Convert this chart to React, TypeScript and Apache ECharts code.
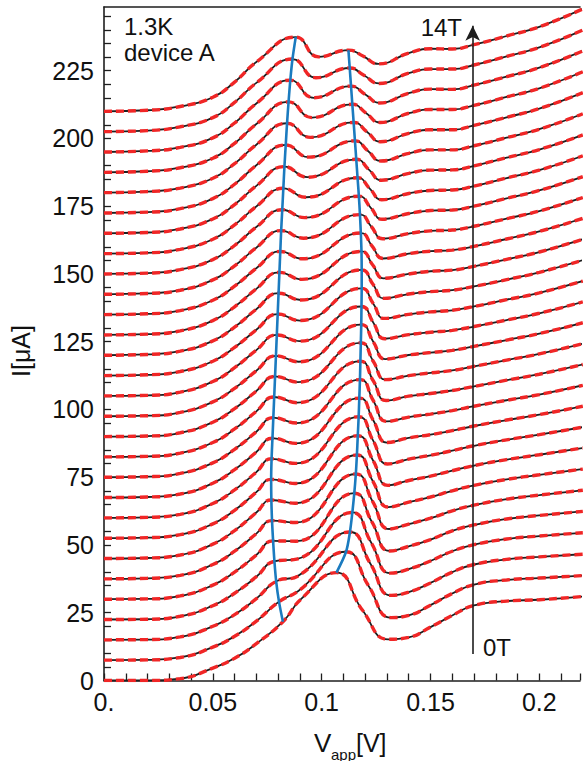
import React, { useEffect, useRef } from 'react';
import * as echarts from 'echarts';

// Magnetic field of each trace (T), 0T at bottom, 14T at top
const fieldsT = [0, 0.5, 1, 1.5, 2, 2.5, 3, 3.5, 4, 4.5, 5, 5.5, 6, 6.5, 7, 7.5, 8, 8.5, 9, 9.5, 10, 10.5, 11, 11.5, 12, 12.5, 13, 13.5, 14];
// vertical waterfall offset (μA per tesla)
const OFFSET_PER_T = 15;

// rising part, common V grid
const riseV = [0, 0.02, 0.035, 0.05, 0.06, 0.07];
const riseRel = [
  [0, 0.0, 0.7, 4.6, 8.2, 13.6],
  [0, 0.1, 1.0, 4.8, 8.8, 14.4],
  [0, 0.1, 1.1, 5.0, 9.3, 15.2],
  [0, 0.1, 1.2, 5.1, 9.7, 15.8],
  [0, 0.1, 1.2, 5.2, 10.0, 16.3],
  [0, 0.2, 1.3, 5.3, 10.2, 16.7],
  [0, 0.2, 1.3, 5.3, 10.3, 17.0],
  [0, 0.2, 1.3, 5.3, 10.3, 17.0],
  [0, 0.2, 1.3, 5.3, 10.3, 16.9],
  [0, 0.2, 1.3, 5.3, 10.3, 16.8],
  [0, 0.2, 1.4, 5.3, 10.3, 16.8],
  [0, 0.2, 1.4, 5.3, 10.3, 16.8],
  [0, 0.2, 1.4, 5.3, 10.3, 16.8],
  [0, 0.2, 1.4, 5.3, 10.3, 16.8],
  [0, 0.2, 1.4, 5.3, 10.4, 16.9],
  [0, 0.3, 1.5, 5.3, 10.4, 16.9],
  [0, 0.3, 1.5, 5.3, 10.4, 17.0],
  [0, 0.3, 1.5, 5.3, 10.4, 17.0],
  [0, 0.3, 1.5, 5.3, 10.5, 17.1],
  [0, 0.3, 1.5, 5.3, 10.5, 17.2],
  [0, 0.3, 1.6, 5.3, 10.5, 17.3],
  [0, 0.3, 1.6, 5.3, 10.6, 17.4],
  [0, 0.3, 1.6, 5.3, 10.6, 17.5],
  [0, 0.3, 1.6, 5.3, 10.6, 17.6],
  [0, 0.4, 1.7, 5.3, 10.7, 17.7],
  [0, 0.4, 1.7, 5.2, 10.7, 17.8],
  [0, 0.4, 1.7, 5.2, 10.7, 17.9],
  [0, 0.4, 1.8, 5.2, 10.8, 18.0],
  [0, 0.4, 1.8, 5.2, 10.8, 18.2],
];

// first peak (left blue line)
const peak1V = [0.0822, 0.0804, 0.0791, 0.0783, 0.0777, 0.0772, 0.0769, 0.0768, 0.0770, 0.0774, 0.0778, 0.0782, 0.0786, 0.0790, 0.0794, 0.0798, 0.0802, 0.0806, 0.0810, 0.0814, 0.0819, 0.0824, 0.0829, 0.0835, 0.0841, 0.0848, 0.0856, 0.0866, 0.0881];
const peak1Rel = [21.7, 21.6, 21.6, 21.5, 21.5, 21.5, 21.6, 21.7, 21.8, 21.9, 22.0, 22.1, 22.2, 22.3, 22.5, 22.7, 22.9, 23.1, 23.3, 23.5, 23.7, 24.1, 24.6, 25.1, 25.6, 26.0, 26.5, 26.8, 27.4];

// valley between the peaks
const dip1V = [0.0905, 0.0893, 0.089, 0.0885, 0.0882, 0.088, 0.0879, 0.0879, 0.088, 0.0882, 0.0885, 0.0888, 0.0891, 0.0894, 0.0897, 0.09, 0.0904, 0.0908, 0.0912, 0.0917, 0.0922, 0.0928, 0.0934, 0.0941, 0.0948, 0.0956, 0.0964, 0.0974, 0.0986];
const dip1Rel = [30.0, 25.5, 23.5, 22.3, 21.4, 20.8, 20.4, 20.2, 20.1, 20.0, 20.0, 20.0, 20.1, 20.1, 20.2, 20.3, 20.4, 20.5, 20.6, 20.7, 20.8, 20.8, 20.7, 20.6, 20.4, 20.2, 20.0, 19.9, 20.1];

// second peak (right blue line)
const peak2V = [0.1068, 0.1112, 0.1130, 0.1141, 0.1150, 0.1157, 0.1162, 0.1166, 0.1170, 0.1173, 0.1176, 0.1178, 0.1180, 0.1182, 0.1183, 0.1184, 0.1184, 0.1183, 0.1180, 0.1176, 0.1171, 0.1165, 0.1159, 0.1153, 0.1147, 0.1141, 0.1135, 0.1129, 0.1123];
const peak2Rel = [39.8, 40.0, 39.8, 39.5, 39.1, 38.7, 38.2, 37.8, 37.3, 36.7, 36.0, 35.3, 34.6, 33.8, 33.0, 32.2, 31.5, 30.8, 30.1, 29.4, 28.7, 28.0, 27.3, 26.6, 25.9, 25.1, 24.3, 23.5, 22.6];

// steep fall after the second peak
const fallV = [0.1187, 0.1215, 0.1224, 0.1228, 0.1231, 0.1234, 0.1235, 0.1236, 0.1236, 0.1237, 0.1237, 0.1237, 0.1237, 0.1237, 0.1237, 0.1236, 0.1235, 0.1234, 0.1231, 0.1228, 0.1225, 0.1221, 0.1217, 0.1213, 0.1209, 0.1205, 0.1201, 0.1196, 0.1192];
const fallRel = [26.0, 27.5, 28.1, 28.3, 28.5, 28.6, 28.6, 28.7, 28.6, 28.5, 28.3, 28.1, 27.8, 27.5, 27.1, 26.7, 26.3, 25.9, 25.4, 25.0, 24.5, 24.0, 23.5, 22.9, 22.4, 21.8, 21.2, 20.7, 20.3];

// valley after the fall
const dip2V = [0.1306, 0.1318, 0.1318, 0.1315, 0.1312, 0.131, 0.1307, 0.1305, 0.1302, 0.13, 0.1298, 0.1296, 0.1294, 0.1292, 0.129, 0.1288, 0.1286, 0.1284, 0.1282, 0.128, 0.1278, 0.1276, 0.1274, 0.1272, 0.127, 0.1268, 0.1266, 0.1263, 0.126];
const dip2Rel = [15.2, 15.7, 16.4, 17.1, 17.8, 18.4, 19.0, 19.5, 19.9, 20.3, 20.6, 20.8, 21.0, 21.1, 21.1, 21.1, 21.0, 20.9, 20.7, 20.5, 20.2, 19.9, 19.6, 19.2, 18.8, 18.4, 18.1, 17.8, 17.5];

// high-bias tail, common V grid
const tailV = [0.14, 0.15, 0.16, 0.17, 0.185, 0.2, 0.22];
const tailRel = [
  [15.9, 19.7, 24.0, 27.7, 29.3, 29.8, 31.0],
  [16.5, 20.3, 24.6, 27.9, 29.6, 30.3, 31.2],
  [17.6, 21.0, 25.0, 27.8, 29.7, 30.6, 31.6],
  [18.6, 21.6, 25.2, 27.6, 29.7, 30.8, 32.0],
  [19.5, 22.0, 25.2, 27.4, 29.6, 30.9, 32.4],
  [20.2, 22.4, 25.1, 27.2, 29.4, 30.9, 32.7],
  [20.8, 22.7, 25.0, 27.0, 29.2, 30.9, 33.0],
  [21.3, 22.9, 24.9, 26.8, 29.0, 30.8, 33.3],
  [21.7, 23.1, 24.8, 26.6, 28.8, 30.7, 33.5],
  [22.0, 23.2, 24.7, 26.4, 28.6, 30.6, 33.7],
  [22.2, 23.3, 24.6, 26.2, 28.4, 30.5, 33.9],
  [22.4, 23.4, 24.5, 26.0, 28.3, 30.5, 34.1],
  [22.5, 23.5, 24.4, 25.9, 28.2, 30.5, 34.3],
  [22.6, 23.5, 24.3, 25.8, 28.1, 30.5, 34.5],
  [22.6, 23.5, 24.2, 25.6, 28.0, 30.5, 34.7],
  [22.6, 23.5, 24.1, 25.5, 28.0, 30.5, 34.9],
  [22.6, 23.5, 24.0, 25.4, 27.9, 30.6, 35.1],
  [22.5, 23.5, 23.9, 25.3, 27.9, 30.6, 35.3],
  [22.5, 23.4, 23.8, 25.2, 27.9, 30.7, 35.5],
  [22.4, 23.4, 23.7, 25.1, 27.9, 30.7, 35.7],
  [22.3, 23.4, 23.6, 25.0, 27.9, 30.8, 35.9],
  [22.2, 23.3, 23.5, 24.9, 27.9, 30.8, 36.1],
  [22.1, 23.3, 23.4, 24.9, 27.9, 30.9, 36.3],
  [22.0, 23.3, 23.3, 24.8, 27.8, 30.9, 36.6],
  [21.9, 23.2, 23.2, 24.8, 27.8, 31.0, 36.9],
  [21.8, 23.2, 23.2, 24.7, 27.8, 31.0, 37.1],
  [21.7, 23.2, 23.1, 24.7, 27.8, 31.1, 37.3],
  [21.6, 23.1, 23.1, 24.6, 27.8, 31.1, 37.5],
  [21.5, 23.1, 23.0, 24.6, 27.8, 31.2, 37.8],
];

// field arrow (V position and its I extent)
const arrowV = 0.1694;
const arrowFromI = 9.8;
const arrowToI = 241.6;

const FONT = "'Liberation Sans', Arial, Helvetica, sans-serif";
const BLACK = '#1e1e1e';
const RED = '#f02626';
const BLUE = '#1b7bbf';

function curvePoints(k: number): number[][] {
  const off = fieldsT[k] * OFFSET_PER_T;
  const pts: number[][] = [];
  riseV.forEach((v, i) => pts.push([v, riseRel[k][i] + off]));
  pts.push([peak1V[k], peak1Rel[k] + off]);
  pts.push([dip1V[k], dip1Rel[k] + off]);
  pts.push([peak2V[k], peak2Rel[k] + off]);
  pts.push([fallV[k], fallRel[k] + off]);
  pts.push([dip2V[k], dip2Rel[k] + off]);
  tailV.forEach((v, i) => pts.push([v, tailRel[k][i] + off]));
  return pts;
}

export default function App() {
  const ref = useRef<HTMLDivElement>(null);
  useEffect(() => {
    if (!ref.current) return;
    const chart = echarts.init(ref.current, undefined, { renderer: 'svg' });
    const series: any[] = [];
    fieldsT.forEach((_, k) => {
      const data = curvePoints(k);
      series.push({
        type: 'line', data, smooth: 0.5, showSymbol: false, symbol: 'none', z: 2, silent: true,
        lineStyle: { color: BLACK, width: 1.8 },
      });
      series.push({
        type: 'line', data, smooth: 0.5, showSymbol: false, symbol: 'none', z: 3, silent: true,
        lineStyle: { color: RED, width: 3.4, type: [8, 4] },
      });
    });
    const blue1 = fieldsT.map((t, k) => [peak1V[k], peak1Rel[k] + t * OFFSET_PER_T]);
    const blue2 = fieldsT.map((t, k) => [peak2V[k], peak2Rel[k] + t * OFFSET_PER_T]);
    [blue1, blue2].forEach((d) =>
      series.push({
        type: 'line', data: d, smooth: 0.3, showSymbol: false, symbol: 'none', z: 5, silent: true,
        lineStyle: { color: BLUE, width: 2.6 },
      })
    );
    series.push({
      type: 'line', data: [], z: 6, silent: true,
      markLine: {
        silent: true, animation: false,
        symbol: ['none', 'arrow'], symbolSize: [11, 15],
        label: { show: false },
        lineStyle: { color: BLACK, width: 1.6, type: 'solid' },
        data: [[{ coord: [arrowV, arrowFromI] }, { coord: [arrowV, arrowToI] }]],
      },
    });

    const axisCommon = {
      axisLine: { show: true, onZero: false, lineStyle: { color: BLACK, width: 1.6 } },
      axisTick: { show: true, inside: true, length: 7, lineStyle: { color: BLACK, width: 1.3 } },
      splitLine: { show: false },
    };

    chart.setOption({
      animation: false,
      backgroundColor: '#ffffff',
      grid: { left: 104, right: 0, top: 7, bottom: 80.5, containLabel: false },
      xAxis: [
        {
          type: 'value', min: 0, max: 0.2187, interval: 0.01, position: 'bottom',
          ...axisCommon,
          axisLabel: {
            margin: 9, fontSize: 25, color: '#111', fontFamily: FONT,
            formatter: (v: number) => {
              const c = Math.round(v * 100);
              if (c % 5 !== 0) return '';
              if (c === 0) return '0.';
              return String(c / 100);
            },
          },
        },
        {
          type: 'value', min: 0, max: 0.2187, position: 'top',
          axisLine: { show: true, onZero: false, lineStyle: { color: BLACK, width: 1.6 } },
          axisTick: { show: false }, axisLabel: { show: false }, splitLine: { show: false },
        },
      ],
      yAxis: {
        type: 'value', min: 0, max: 248.5, interval: 5,
        ...axisCommon,
        axisLabel: {
          margin: 10, fontSize: 25, color: '#111', fontFamily: FONT,
          showMaxLabel: false,
          formatter: (v: number) => (Math.round(v) % 25 === 0 ? String(Math.round(v)) : ''),
        },
      },
      graphic: [
        { type: 'text', left: 124, top: 14, style: { text: '1.3K', font: `24px ${FONT}`, fill: '#111' } },
        { type: 'text', left: 124, top: 40, style: { text: 'device A', font: `24px ${FONT}`, fill: '#111' } },
        { type: 'text', x: 462, y: 27, style: { text: '14T', font: `24px ${FONT}`, fill: '#111', align: 'right', verticalAlign: 'middle' } },
        { type: 'text', x: 483, y: 647, style: { text: '0T', font: `24px ${FONT}`, fill: '#111', align: 'left', verticalAlign: 'middle' } },
        { type: 'text', x: 21, y: 351, rotation: Math.PI / 2, style: { text: 'I[μA]', font: `25px ${FONT}`, fill: '#111', align: 'center', verticalAlign: 'middle' } },
        { type: 'text', x: 314, y: 743, style: { text: 'V', font: `26px ${FONT}`, fill: '#111', align: 'left', verticalAlign: 'middle' } },
        { type: 'text', x: 331, y: 754, style: { text: 'app', font: `15px ${FONT}`, fill: '#111', align: 'left', verticalAlign: 'middle' } },
        { type: 'text', x: 356, y: 743, style: { text: '[V]', font: `25px ${FONT}`, fill: '#111', align: 'left', verticalAlign: 'middle' } },
      ],
      series,
    });
    return () => chart.dispose();
  }, []);
  return <div ref={ref} style={{ position: 'absolute', left: 0, top: 0, width: 583, height: 761 }} />;
}
